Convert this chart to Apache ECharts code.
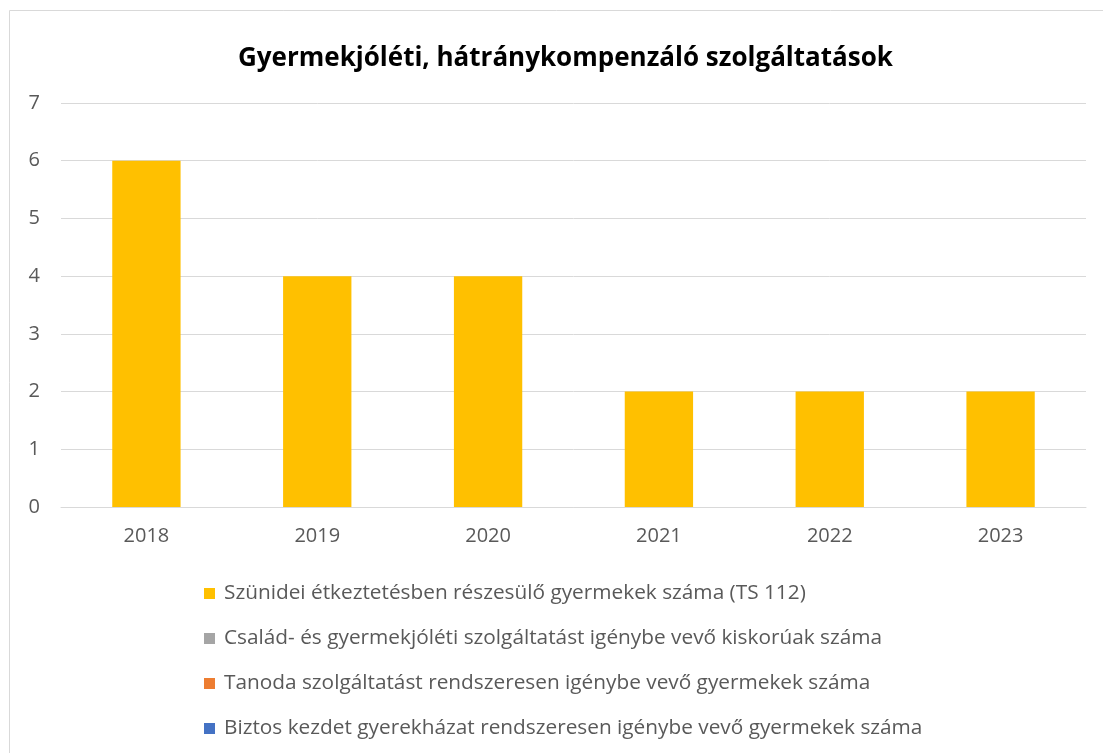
<!DOCTYPE html>
<html>
<head>
<meta charset="utf-8">
<script src="https://cdn.jsdelivr.net/npm/echarts@6/dist/echarts.min.js"></script>
<style>
  html, body { margin: 0; padding: 0; background: #fff; }
  #chart { width: 1103px; height: 753px; }
</style>
</head>
<body>
<div id="chart"></div>
<script>
// adatok
var years = ["2018", "2019", "2020", "2021", "2022", "2023"];
var szunidei = [6, 4, 4, 2, 2, 2];
var csaladGyermekjoleti = [];
var tanoda = [];
var biztosKezdet = [];
var seriesNames = [
  "Szünidei étkeztetésben részesülő gyermekek száma (TS 112)",
  "Család- és gyermekjóléti szolgáltatást igénybe vevő kiskorúak száma",
  "Tanoda szolgáltatást rendszeresen igénybe vevő gyermekek száma",
  "Biztos kezdet gyerekházat rendszeresen igénybe vevő gyermekek száma"
];
var colors = ["#FFC000", "#A5A5A5", "#ED7D31", "#4472C4"];

var font = "'Open Sans', 'Noto Sans', sans-serif";
var chart = echarts.init(document.getElementById("chart"));
var option = {
  animation: false,
  color: colors,
  title: {
    text: "Gyermekjóléti, hátránykompenzáló szolgáltatások",
    left: 233,
    top: 41,
    textStyle: { fontFamily: font, fontSize: 26, fontWeight: "bold", color: "#000" }
  },
  graphic: [{
    type: "rect",
    shape: { x: 9.5, y: 10.5, width: 1200, height: 900 },
    style: { fill: "none", stroke: "#d9d9d9", lineWidth: 1 },
    silent: true
  }],
  legend: {
    orient: "vertical",
    left: 199,
    top: 578,
    itemGap: 24,
    itemWidth: 11,
    itemHeight: 11,
    icon: "rect",
    textStyle: { fontFamily: font, fontSize: 20.8, color: "#595959", padding: [0, 0, 0, 4] },
    data: seriesNames
  },
  grid: { left: 61, right: 17, top: 103, bottom: 246 },
  xAxis: {
    type: "category",
    data: years,
    axisLine: { lineStyle: { color: "#d9d9d9", width: 1 } },
    axisTick: { show: false },
    axisLabel: { fontFamily: font, fontSize: 20, color: "#595959", margin: 19 }
  },
  yAxis: {
    type: "value",
    min: 0,
    max: 7,
    interval: 1,
    axisLine: { show: false },
    axisTick: { show: false },
    splitLine: { lineStyle: { color: "#d9d9d9", width: 1 } },
    axisLabel: { fontFamily: font, fontSize: 20, color: "#595959", margin: 21 }
  },
  series: [
    { name: seriesNames[0], type: "bar", stack: "all", barWidth: "40%", data: szunidei },
    { name: seriesNames[1], type: "bar", stack: "all", data: csaladGyermekjoleti },
    { name: seriesNames[2], type: "bar", stack: "all", data: tanoda },
    { name: seriesNames[3], type: "bar", stack: "all", data: biztosKezdet }
  ]
};
chart.setOption(option);
</script>
</body>
</html>
